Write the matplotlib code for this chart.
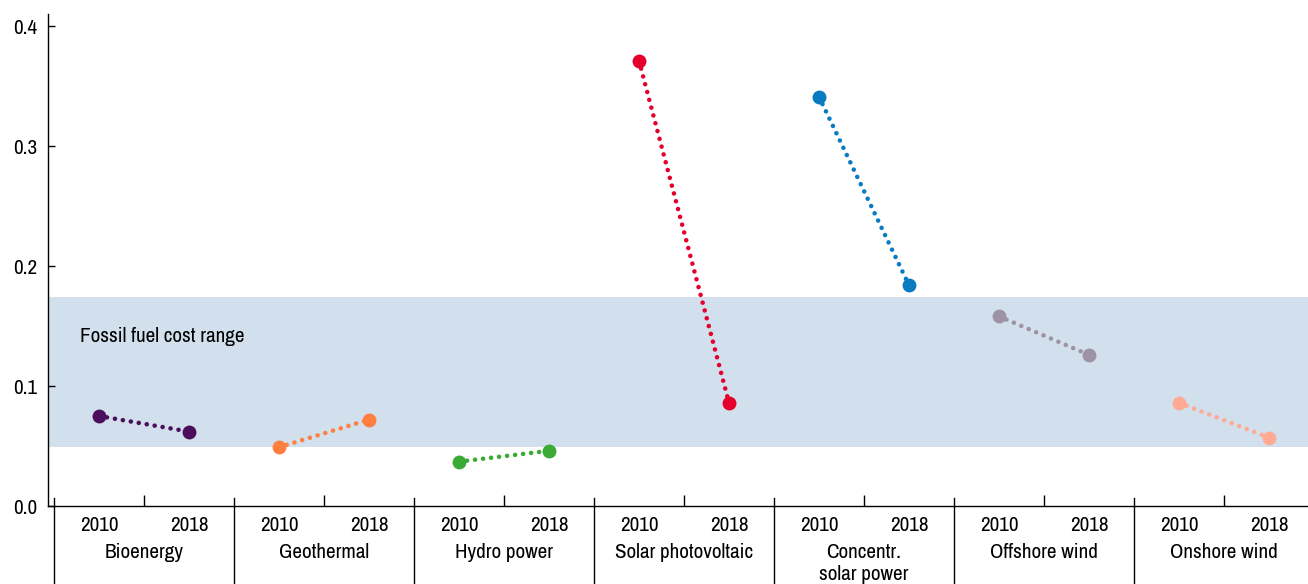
import matplotlib
matplotlib.use("Agg")
import matplotlib.pyplot as plt
from matplotlib import font_manager

entries = font_manager.fontManager.ttflist
chosen = None
stretch = "normal"
for e in entries:
    if "Narrow" in e.name or "Condensed" in e.name:
        chosen = e.name
        break
if chosen is None:
    for e in entries:
        if e.name in ("Liberation Sans", "Roboto", "Noto Sans", "Open Sans") and \
                str(e.stretch) in ("condensed", "semi-condensed", "extra-condensed", "75", "87.5"):
            chosen = e.name
            stretch = e.stretch
            break
if chosen is None:
    chosen = "Liberation Sans"
plt.rcParams['font.family'] = [chosen, 'DejaVu Sans']
plt.rcParams['font.stretch'] = stretch
FS = 15.2 if chosen != "Liberation Sans" else 12.5

categories = ["Bioenergy", "Geothermal", "Hydro power", "Solar photovoltaic",
              "Concentr.\nsolar power", "Offshore wind", "Onshore wind"]
years = ["2010", "2018"]
values_2010 = [0.075, 0.049, 0.037, 0.371, 0.341, 0.158, 0.086]
values_2018 = [0.062, 0.072, 0.046, 0.086, 0.184, 0.126, 0.057]
colors = ["#4A0E5C", "#FF7F41", "#3AAA35", "#E4002B", "#0A7BC1", "#9E92A6", "#FFAB94"]
fossil_range = (0.049, 0.174)
yticks = [0.0, 0.1, 0.2, 0.3, 0.4]

W, H = 1308, 584
fig = plt.figure(figsize=(W / 100, H / 100), dpi=100)
ax = fig.add_axes([48 / W, (H - 506) / H, (W - 48) / W, 492 / H])

n = len(categories)
ax.set_xlim(-0.5 - 6 / 180, n - 0.5 - 6 / 180)
ax.set_ylim(0, 0.41)

ax.axhspan(fossil_range[0], fossil_range[1], color="#D2DFEC", zorder=0, lw=0)
ax.text(-0.355, 0.141, "Fossil fuel cost range", fontsize=FS, va="center", ha="left")

off = 0.25
for i, (a, b, c) in enumerate(zip(values_2010, values_2018, colors)):
    ax.plot([i - off, i + off], [a, b], color=c, lw=3.3,
            linestyle=(0, (0.01, 1.75)), dash_capstyle="round", zorder=2)
    ax.plot([i - off, i + off], [a, b], "o", color=c, ms=10, mec="none", zorder=3)

for s in ["top", "right"]:
    ax.spines[s].set_visible(False)
ax.spines["left"].set_linewidth(1.0)
ax.spines["bottom"].set_linewidth(1.0)

ax.set_yticks(yticks)
ax.set_yticklabels([f"{v:.1f}" for v in yticks], fontsize=FS)
ax.tick_params(axis="y", direction="in", length=5, width=1, pad=8)

ax.set_xticks([i for i in range(n)])
ax.set_xticklabels([])
ax.tick_params(axis="x", direction="in", length=8, width=1)

for i in range(n):
    xb = i - 0.5
    ax.plot([xb, xb], [-0.068, 0.0065], color="black", lw=1, clip_on=False, zorder=5)
    for j, y in enumerate(years):
        ax.text(i + (-off if j == 0 else off), -0.0085, y, ha="center", va="top",
                fontsize=FS)
    ax.text(i, -0.031, categories[i], ha="center", va="top", fontsize=FS,
            linespacing=1.2)

fig.savefig("out.png", dpi=100)
